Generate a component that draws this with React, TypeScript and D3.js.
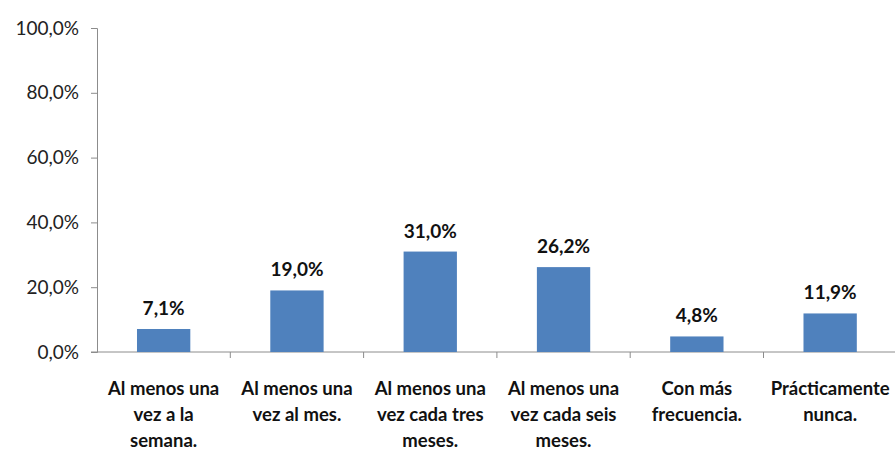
import { useEffect, useRef } from 'react';
import * as d3 from 'd3';

const categories = [
  ['Al menos una', 'vez a la', 'semana.'],
  ['Al menos una', 'vez al mes.'],
  ['Al menos una', 'vez cada tres', 'meses.'],
  ['Al menos una', 'vez cada seis', 'meses.'],
  ['Con más', 'frecuencia.'],
  ['Prácticamente', 'nunca.'],
];
const values = [7.1, 19.0, 31.0, 26.2, 4.8, 11.9];
const yTicks = [0, 20, 40, 60, 80, 100];

const fmt = (v: number) => v.toFixed(1).replace('.', ',') + '%';

const App = () => {
  const svgRef = useRef<SVGSVGElement>(null);

  useEffect(() => {
    const svg = d3.select(svgRef.current);
    const width = 895;
    const height = 451;
    const left = 97;
    const top = 28;
    const bottom = 352;

    svg.selectAll('*').remove();
    svg.attr('width', width).attr('height', height);

    const idx = values.map((_, i) => i);
    const x = d3.scaleBand<number>()
      .domain(idx)
      .range([left, left + 133.3 * 6])
      .paddingInner(0.6)
      .paddingOuter(0.3);

    const y = d3.scaleLinear()
      .domain([0, 100])
      .range([bottom, top]);

    const font = 'Lato, "Open Sans", sans-serif';

    // y axis
    const yAxis = svg.append('g')
      .attr('transform', `translate(${left},0)`)
      .call(d3.axisLeft(y).tickValues(yTicks).tickSize(6).tickFormat(d => fmt(+d)));
    yAxis.select('.domain').attr('stroke', '#8c8c8c');
    yAxis.selectAll('.tick line').attr('stroke', '#8c8c8c');
    yAxis.selectAll('.tick text')
      .attr('x', -18)
      .style('font-family', font)
      .style('font-size', '19px')
      .attr('fill', '#222');

    // x axis line and boundary ticks
    const step = x.step();
    const xg = svg.append('g');
    xg.append('line')
      .attr('x1', left - 6).attr('x2', width)
      .attr('y1', bottom).attr('y2', bottom)
      .attr('stroke', '#8c8c8c');
    xg.selectAll('line.tk')
      .data(d3.range(1, 7))
      .join('line')
      .attr('class', 'tk')
      .attr('x1', d => x(0)! - x.paddingOuter() * step + d * step)
      .attr('x2', d => x(0)! - x.paddingOuter() * step + d * step)
      .attr('y1', bottom).attr('y2', bottom + 6)
      .attr('stroke', '#8c8c8c');

    // bars
    svg.append('g')
      .selectAll('rect')
      .data(values)
      .join('rect')
      .attr('x', (_, i) => x(i)!)
      .attr('y', d => y(d))
      .attr('width', x.bandwidth())
      .attr('height', d => y(0) - y(d))
      .attr('fill', '#4f81bd');

    // value labels
    svg.append('g')
      .selectAll('text')
      .data(values)
      .join('text')
      .attr('x', (_, i) => x(i)! + x.bandwidth() / 2)
      .attr('y', d => y(d) - 14)
      .attr('text-anchor', 'middle')
      .style('font-family', font)
      .style('font-size', '19px')
      .style('font-weight', 'bold')
      .attr('fill', '#111')
      .text(d => fmt(d));

    // category labels
    const cat = svg.append('g')
      .selectAll('text')
      .data(categories)
      .join('text')
      .attr('text-anchor', 'middle')
      .style('font-family', font)
      .style('font-size', '18.5px')
      .style('font-weight', 'bold')
      .attr('fill', '#111');
    cat.each(function (lines, i) {
      d3.select(this)
        .selectAll('tspan')
        .data(lines)
        .join('tspan')
        .attr('x', x(i)! + x.bandwidth() / 2)
        .attr('y', (_, j) => 395 + j * 26)
        .text(d => d);
    });
  }, []);

  return (
    <div style={{ position: 'absolute', left: 0, top: 0 }}>
      <svg ref={svgRef} style={{ display: 'block', background: '#fff' }}></svg>
    </div>
  );
};

export default App;
